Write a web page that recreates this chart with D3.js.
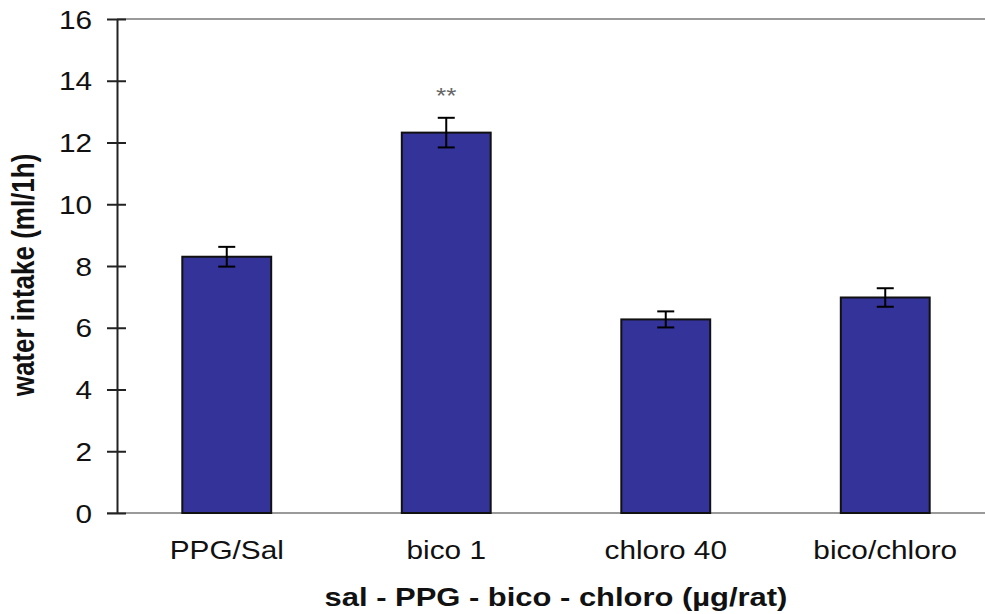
<!DOCTYPE html>
<html>
<head>
<meta charset="utf-8">
<script src="https://cdn.jsdelivr.net/npm/d3@7"></script>
<style>
  html, body { margin: 0; padding: 0; background: #fff; }
  svg { display: block; }
  text { font-family: "Liberation Sans", Arial, sans-serif; }
</style>
</head>
<body>
<svg id="chart" width="985" height="614"></svg>
<script>
// Water intake per treatment group (mean ± SEM)
const categories = ["PPG/Sal", "bico 1", "chloro 40", "bico/chloro"];
const means = [8.3, 12.32, 6.27, 6.98];
const sems = [0.32, 0.48, 0.26, 0.3];
const significance = ["", "**", "", ""];
const yTicks = [0, 2, 4, 6, 8, 10, 12, 14, 16];
const yTitle = "water intake (ml/1h)";
const xTitle = "sal - PPG - bico - chloro (µg/rat)";

const svg = d3.select("#chart");
const W = 985, H = 614;
const plot = { left: 117, right: 995, top: 19, bottom: 513 };
const sx = 1.19; // horizontal text stretch

svg.append("rect").attr("width", W).attr("height", H).attr("fill", "#fff");

const x = d3.scaleBand()
  .domain(categories)
  .range([plot.left, plot.right])
  .paddingInner(0.595)
  .paddingOuter(0.2975);

const y = d3.scaleLinear().domain([0, 16]).range([plot.bottom, plot.top]);

// top frame line and baseline
svg.append("line")
  .attr("x1", plot.left).attr("x2", W)
  .attr("y1", y(16)).attr("y2", y(16))
  .attr("stroke", "#9a9a9a").attr("stroke-width", 2);
svg.append("line")
  .attr("x1", plot.left - 10).attr("x2", W)
  .attr("y1", y(0)).attr("y2", y(0))
  .attr("stroke", "#9a9a9a").attr("stroke-width", 2);

// bars
svg.append("g").selectAll("rect")
  .data(categories)
  .join("rect")
  .attr("x", d => x(d))
  .attr("width", x.bandwidth())
  .attr("y", (d, i) => y(means[i]))
  .attr("height", (d, i) => y(0) - y(means[i]))
  .attr("fill", "#333399")
  .attr("stroke", "#111")
  .attr("stroke-width", 2);

// error bars
const capW = 17;
const eb = svg.append("g").attr("stroke", "#000").attr("stroke-width", 2);
categories.forEach((c, i) => {
  const cx = x(c) + x.bandwidth() / 2;
  const top = y(means[i] + sems[i]);
  const bot = y(means[i] - sems[i]);
  eb.append("line").attr("x1", cx).attr("x2", cx).attr("y1", top).attr("y2", bot);
  eb.append("line").attr("x1", cx - capW / 2).attr("x2", cx + capW / 2).attr("y1", top).attr("y2", top);
  eb.append("line").attr("x1", cx - capW / 2).attr("x2", cx + capW / 2).attr("y1", bot).attr("y2", bot);
});

// significance markers
categories.forEach((c, i) => {
  if (!significance[i]) return;
  const cx = x(c) + x.bandwidth() / 2;
  svg.append("g")
    .attr("transform", `translate(${cx},${y(means[i] + sems[i]) - 15}) scale(${sx},1)`)
    .append("text")
    .attr("text-anchor", "middle")
    .attr("font-size", 22)
    .attr("fill", "#666")
    .text(significance[i]);
});

// y axis
const yAxis = d3.axisLeft(y).tickValues(yTicks).tickSize(0).tickFormat("");
const ya = svg.append("g").attr("transform", `translate(${plot.left},0)`).call(yAxis);
ya.select(".domain").attr("stroke", "#222").attr("stroke-width", 2);
ya.selectAll(".tick").each(function (d) {
  const t = d3.select(this);
  t.append("line").attr("x1", -10).attr("x2", 9).attr("y1", 0).attr("y2", 0)
    .attr("stroke", "#222").attr("stroke-width", 2);
  t.append("g")
    .attr("transform", `translate(-25,0) scale(${sx},1)`)
    .append("text")
    .attr("text-anchor", "end")
    .attr("dy", "0.36em")
    .attr("font-size", 25)
    .attr("fill", "#111")
    .text(d);
});

// category labels
categories.forEach(c => {
  svg.append("g")
    .attr("transform", `translate(${x(c) + x.bandwidth() / 2},559) scale(${sx},1)`)
    .append("text")
    .attr("text-anchor", "middle")
    .attr("font-size", 25)
    .attr("fill", "#111")
    .text(c);
});

// axis titles
svg.append("g")
  .attr("transform", `translate(${(plot.left + plot.right) / 2},606) scale(${sx},1)`)
  .append("text")
  .attr("text-anchor", "middle")
  .attr("font-size", 26)
  .attr("font-weight", "bold")
  .attr("fill", "#111")
  .text(xTitle);

svg.append("g")
  .attr("transform", `translate(34,${(plot.top + plot.bottom) / 2 + 9}) scale(${sx},1) rotate(-90)`)
  .append("text")
  .attr("text-anchor", "middle")
  .attr("font-size", 26)
  .attr("font-weight", "bold")
  .attr("fill", "#111")
  .text(yTitle);
</script>
</body>
</html>
